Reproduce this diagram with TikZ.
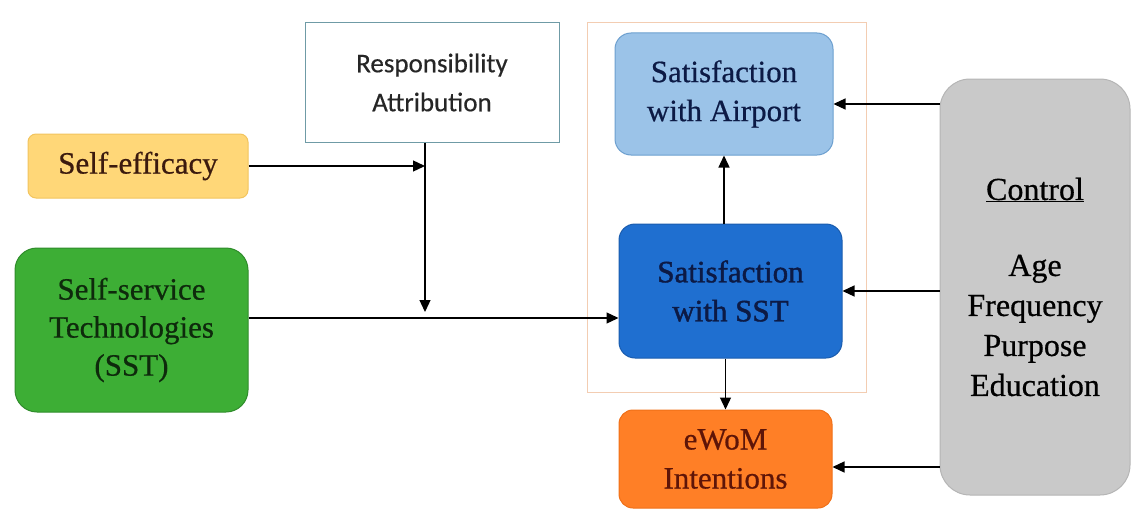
\documentclass[tikz,border=0pt]{standalone}
\usepackage{fontspec}
\setmainfont{Liberation Serif}
\newfontfamily\serifheavy{Liberation Serif}[FakeBold=0.6]
\newfontfamily\serifbold{Liberation Serif}[FakeBold=1.4]
\newfontfamily\calibrifont{Carlito}[FakeBold=0.4]
\usepackage{xcolor}
\usetikzlibrary{positioning, arrows.meta}
\definecolor{effyellow}{HTML}{FFD778}
\definecolor{effborder}{HTML}{F2C45E}
\definecolor{effbrown}{HTML}{3B1A0E}
\definecolor{sstgreen}{HTML}{3DAE35}
\definecolor{sstborder}{HTML}{2F8C2B}
\definecolor{sstdark}{HTML}{0E2A0C}
\definecolor{resborder}{HTML}{6F9BA6}
\definecolor{grpframe}{HTML}{F3CDB2}
\definecolor{airblue}{HTML}{9BC3E8}
\definecolor{airborder}{HTML}{6C9FCF}
\definecolor{satblue}{HTML}{1F6FD0}
\definecolor{satborder}{HTML}{1A5CAE}
\definecolor{navytext}{HTML}{0C1A45}
\definecolor{ewomorange}{HTML}{FF7F26}
\definecolor{ewomborder}{HTML}{F07018}
\definecolor{ewomtext}{HTML}{5E1508}
\definecolor{ctrlgray}{HTML}{C9C9C9}
\definecolor{ctrlborder}{HTML}{B5B5B5}

\begin{document}
\begin{tikzpicture}[x=1pt, y=-1pt,
  box/.style={draw, line width=1pt, align=center, inner sep=0pt,
    font=\serifheavy\fontsize{31}{39}\selectfont},
  arr/.style={-{Triangle[length=12pt, width=11pt]}, line width=1.3pt}]
  \useasboundingbox (0,0) rectangle (1131,511);

  % frame round the two satisfaction boxes
  \node[draw=grpframe, line width=1pt, inner sep=0pt,
        minimum width=279pt, minimum height=369pt] (grp) at (726.5,207.5) {};

  \node[box, fill=effyellow, draw=effborder, text=effbrown, rounded corners=8pt,
        minimum width=220pt, minimum height=64pt] (selfeff) at (138,166) {Self-efficacy};
  \node[box, fill=white, draw=resborder, text=black!85, font=\calibrifont\fontsize{27}{39}\selectfont,
        minimum width=254pt, minimum height=119pt] (resp) at (432,82.5) {Responsibility\\Attribution};
  \node[box, fill=sstgreen, draw=sstborder, text=sstdark, rounded corners=22pt,
        font=\serifheavy\fontsize{31}{38}\selectfont,
        minimum width=233pt, minimum height=164pt] (sst) at (131.5,330) {Self-service\\Technologies\\(SST)};

  \node[box, fill=airblue, draw=airborder, text=navytext, rounded corners=16pt,
        minimum width=218pt, minimum height=122pt] (airport) at (724,94) {Satisfaction\\with Airport};
  \node[box, fill=satblue, draw=satborder, text=navytext, rounded corners=16pt,
        font=\serifbold\fontsize{31}{39}\selectfont,
        minimum width=223pt, minimum height=134pt] (satsst) at (730.5,291) {Satisfaction\\with SST};
  \node[box, fill=ewomorange, draw=ewomborder, text=ewomtext, rounded corners=14pt,
        minimum width=213pt, minimum height=98pt] (ewom) at (725.5,459) {eWoM\\Intentions};

  \node[box, fill=ctrlgray, draw=ctrlborder, text=black, rounded corners=30pt,
        font=\serifheavy\fontsize{32}{40}\selectfont,
        minimum width=190pt, minimum height=416pt] (control) at (1035,287)
        {\underline{Control}\\[36pt]Age\\Frequency\\Purpose\\Education};

  % moderation point on the SST path
  \coordinate (mod) at (425,312);

  \draw[arr] (mod |- resp.south) -- (mod);
  \draw[arr] (selfeff.east) -- (selfeff.east -| mod);
  \draw[arr] ([yshift=12pt]sst.east) -- ([yshift=12pt]sst.east -| satsst.west);

  \draw[arr] (airport.south |- satsst.north) -- (airport.south);
  \draw[arr] (satsst.south -| ewom.north) -- (ewom.north);

  \draw[arr] ([yshift=-10pt]control.west |- airport.east) -- ([yshift=-10pt]airport.east);
  \draw[arr] (control.west |- satsst.east) -- (satsst.east);
  \draw[arr] ([yshift=-8pt]control.west |- ewom.east) -- ([yshift=-8pt]ewom.east);
\end{tikzpicture}
\end{document}
